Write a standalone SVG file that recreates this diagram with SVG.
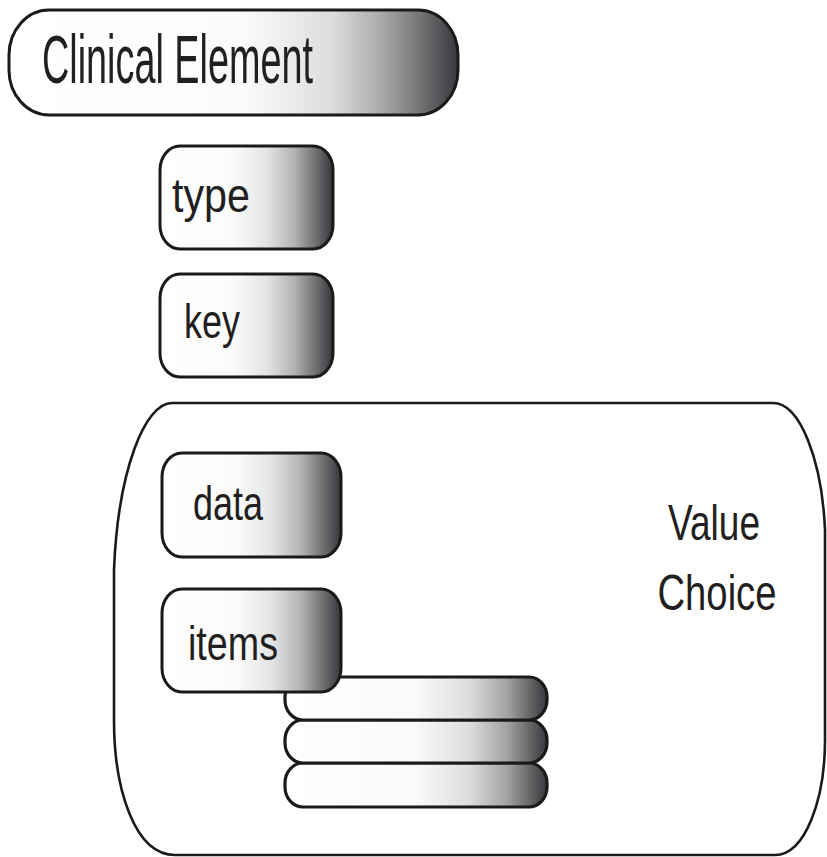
<svg xmlns="http://www.w3.org/2000/svg" width="827" height="857" viewBox="0 0 827 857">
<style>
.box{stroke:#1a1a1a;stroke-width:3;fill:url(#g)}
.hdr{stroke:#1a1a1a;stroke-width:3;fill:url(#gh)}
.pill{stroke:#1a1a1a;stroke-width:3.2;fill:url(#gp)}
.cont{stroke:#1a1a1a;stroke-width:2.6;fill:#fff}
text{font-family:"Liberation Sans Narrow","Liberation Sans",Arial,sans-serif;fill:#231f20}
.lbl{font-size:48px}
</style>
<defs>
<linearGradient id="g" x1="0" y1="0" x2="1" y2="0">
<stop offset="0" stop-color="#ffffff"/>
<stop offset="0.42" stop-color="#fbfbfb"/>
<stop offset="0.62" stop-color="#e2e3e4"/>
<stop offset="0.78" stop-color="#b0b1b3"/>
<stop offset="0.9" stop-color="#6f7072"/>
<stop offset="1" stop-color="#36363a"/>
</linearGradient>
<linearGradient id="gh" x1="0" y1="0" x2="1" y2="0">
<stop offset="0" stop-color="#ffffff"/>
<stop offset="0.52" stop-color="#fbfbfb"/>
<stop offset="0.72" stop-color="#dcdddf"/>
<stop offset="0.83" stop-color="#a9aaac"/>
<stop offset="0.91" stop-color="#77787a"/>
<stop offset="1" stop-color="#38383c"/>
</linearGradient>
<linearGradient id="gp" x1="0" y1="0" x2="1" y2="0">
<stop offset="0" stop-color="#ffffff"/>
<stop offset="0.5" stop-color="#f9f9f9"/>
<stop offset="0.7" stop-color="#dddedf"/>
<stop offset="0.85" stop-color="#a0a1a3"/>
<stop offset="0.95" stop-color="#5a5b5d"/>
<stop offset="1" stop-color="#38383c"/>
</linearGradient>
</defs>

<g id="clinical-element">
<rect class="hdr" x="9" y="10" width="449" height="105" rx="40" ry="45"/>
<text x="42" y="83" font-size="68" textLength="271" lengthAdjust="spacingAndGlyphs">Clinical Element</text>
</g>

<g id="type">
<rect class="box" x="160" y="146" width="173" height="103" rx="20" ry="24"/>
<text class="lbl" x="172" y="212" textLength="78" lengthAdjust="spacingAndGlyphs">type</text>
</g>

<g id="key">
<rect class="box" x="160" y="274" width="173" height="103" rx="20" ry="24"/>
<text class="lbl" x="184" y="338" textLength="56" lengthAdjust="spacingAndGlyphs">key</text>
</g>

<g id="value-choice">
<path class="cont" d="M172,403 L773,403 C800,403 822,460 825,530 L825,740 C825,800 805,855 775,855 L175,855 C135,855 114,790 114,720 L114,570 C118,470 145,403 172,403 Z"/>
<text x="714" y="540" font-size="50" text-anchor="middle" textLength="92" lengthAdjust="spacingAndGlyphs">Value</text>
<text x="717" y="610" font-size="50" text-anchor="middle" textLength="119" lengthAdjust="spacingAndGlyphs">Choice</text>
</g>

<g id="data">
<rect class="box" x="162" y="453" width="179" height="104" rx="20" ry="24"/>
<text class="lbl" x="193" y="520" textLength="70" lengthAdjust="spacingAndGlyphs">data</text>
</g>

<g id="item-list">
<rect class="pill" x="285" y="763" width="262" height="44" rx="18" ry="20"/>
<rect class="pill" x="285" y="720" width="262" height="43" rx="18" ry="20"/>
<rect class="pill" x="285" y="677" width="262" height="43" rx="18" ry="20"/>
</g>

<g id="items">
<rect class="box" x="162" y="589" width="179" height="103" rx="20" ry="24"/>
<text class="lbl" x="188" y="660" textLength="90" lengthAdjust="spacingAndGlyphs">items</text>
</g>

<g id="connectors"/>
</svg>
